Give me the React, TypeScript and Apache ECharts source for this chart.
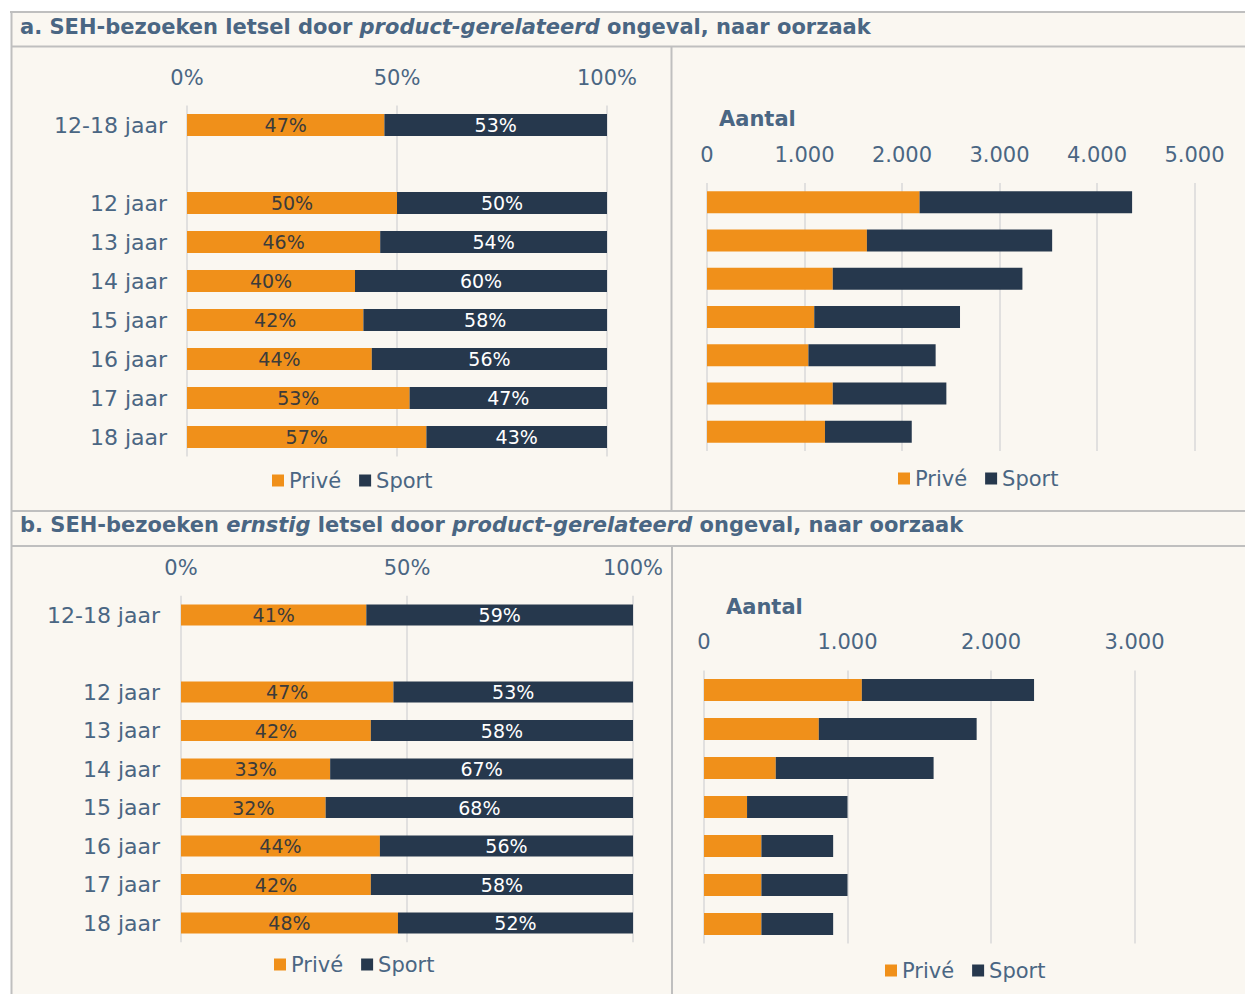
import React, { useEffect, useRef } from "react";
import * as echarts from "echarts";

// ---------- data ----------
const categoriesPct = ["12-18 jaar", "", "12 jaar", "13 jaar", "14 jaar", "15 jaar", "16 jaar", "17 jaar", "18 jaar"];
const pctPriveA = [47, null, 50, 46, 40, 42, 44, 53, 57];
const pctSportA = [53, null, 50, 54, 60, 58, 56, 47, 43];
const pctPriveB = [41, null, 47, 42, 33, 32, 44, 42, 48];
const pctSportB = [59, null, 53, 58, 67, 68, 56, 58, 52];

const ageCats = ["12 jaar", "13 jaar", "14 jaar", "15 jaar", "16 jaar", "17 jaar", "18 jaar"];
const countPriveA = [2180, 1640, 1290, 1100, 1040, 1290, 1210];
const countSportA = [2180, 1900, 1945, 1495, 1305, 1165, 890];
const countPriveB = [1100, 800, 500, 300, 400, 400, 400];
const countSportB = [1200, 1100, 1100, 700, 500, 600, 500];

const seriesNames = ["Privé", "Sport"];
const pctTicks = [0, 50, 100];

// ---------- style ----------
const ORANGE = "#f0901a";
const NAVY = "#26384d";
const TEXT = "#4a6683";
const BG = "#faf7f1";
const BORDER = "#bfbfbf";
const GRIDLINE = "#d9d9d9";
const FONT = "DejaVu Sans";

const fmtThousands = (v: number) => String(v).replace(/\B(?=(\d{3})+(?!\d))/g, ".");

export default function App() {
  const ref = useRef<HTMLDivElement>(null);

  useEffect(() => {
    if (!ref.current) return;
    const chart = echarts.init(ref.current, null, { renderer: "svg" });

    const pctXAxis = (gridIndex: number) => ({
      gridIndex,
      type: "value",
      position: "top",
      min: 0,
      max: 100,
      interval: 50,
      axisLine: { show: false },
      axisTick: { show: false },
      splitLine: { show: true, lineStyle: { color: GRIDLINE, width: 1.5 } },
      axisLabel: { color: TEXT, fontSize: 21, fontFamily: FONT, margin: 17, formatter: (v: number) => (pctTicks.includes(v) ? v + "%" : "") },
    });
    const cntXAxis = (gridIndex: number, max: number) => ({
      gridIndex,
      type: "value",
      position: "top",
      min: 0,
      max,
      interval: 1000,
      axisLine: { show: false },
      axisTick: { show: false },
      splitLine: { show: true, lineStyle: { color: GRIDLINE, width: 1.5 } },
      axisLabel: { color: TEXT, fontSize: 21, fontFamily: FONT, margin: 18, formatter: (v: number) => fmtThousands(v) },
    });
    const catYAxis = (gridIndex: number, data: string[], showLabel: boolean, margin: number) => ({
      gridIndex,
      type: "category",
      data,
      inverse: true,
      axisLine: { show: false },
      axisTick: { show: false },
      splitLine: { show: false },
      axisLabel: { show: showLabel, color: TEXT, fontSize: 22, fontFamily: FONT, margin, align: "right" },
    });

    const barSeries = (name: string, idx: number, data: any[], stack: string, color: string, barWidth: number, label: boolean, labelColor: string) => ({
      name,
      type: "bar",
      stack,
      xAxisIndex: idx,
      yAxisIndex: idx,
      data,
      barWidth,
      itemStyle: { color },
      label: label
        ? { show: true, position: "inside", color: labelColor, fontSize: 19, fontFamily: FONT, formatter: (p: any) => (p.value == null ? "" : p.value + "%") }
        : { show: false },
    });

    const legend = (left: number, top: number) => ({
      data: seriesNames,
      left,
      top,
      orient: "horizontal",
      icon: "rect",
      itemWidth: 12,
      itemHeight: 12,
      itemGap: 18,
      selectedMode: false,
      textStyle: { color: TEXT, fontSize: 21, fontFamily: FONT },
    });

    const hLine = (y: number, x1: number, x2: number) => ({
      type: "line",
      shape: { x1, y1: y, x2, y2: y },
      style: { stroke: BORDER, lineWidth: 2 },
      silent: true,
    });
    const vLine = (x: number, y1: number, y2: number) => ({
      type: "line",
      shape: { x1: x, y1, x2: x, y2 },
      style: { stroke: BORDER, lineWidth: 2 },
      silent: true,
    });

    const titleRich = {
      b: { fontFamily: FONT, fontWeight: "bold", fontSize: 21, fill: TEXT, color: TEXT },
      i: { fontFamily: FONT, fontWeight: "bold", fontStyle: "italic", fontSize: 21, fill: TEXT, color: TEXT },
    };

    chart.setOption({
      animation: false,
      backgroundColor: "#ffffff",
      graphic: [
        { type: "rect", shape: { x: 11, y: 12, width: 1234, height: 982 }, style: { fill: BG }, silent: true, z: -10 },
        hLine(12, 10, 1245),
        vLine(11.5, 12, 994),
        hLine(46.5, 11, 1245),
        vLine(671.5, 46, 511),
        hLine(511, 11, 1245),
        hLine(546, 11, 1245),
        vLine(672, 546, 994),
        {
          type: "text",
          x: 20,
          y: 27,
          style: {
            text: "{b|a. SEH-bezoeken letsel door }{i|product-gerelateerd}{b| ongeval, naar oorzaak}",
            rich: titleRich,
            verticalAlign: "middle",
          },
        },
        {
          type: "text",
          x: 20,
          y: 525,
          style: {
            text: "{b|b. SEH-bezoeken }{i|ernstig}{b| letsel door }{i|product-gerelateerd}{b| ongeval, naar oorzaak}",
            rich: titleRich,
            verticalAlign: "middle",
          },
        },
        {
          type: "text",
          x: 719,
          y: 119,
          style: { text: "Aantal", fontFamily: FONT, fontWeight: "bold", fontSize: 21, fill: TEXT, verticalAlign: "middle" },
        },
        {
          type: "text",
          x: 726,
          y: 607,
          style: { text: "Aantal", fontFamily: FONT, fontWeight: "bold", fontSize: 21, fill: TEXT, verticalAlign: "middle" },
        },
      ],
      grid: [
        { left: 187, top: 105.5, width: 420, height: 351 },
        { left: 707, top: 183, width: 487.5, height: 268 },
        { left: 181, top: 595.75, width: 452, height: 346.5 },
        { left: 704, top: 670.5, width: 430.5, height: 273 },
      ],
      xAxis: [pctXAxis(0), cntXAxis(1, 5000), pctXAxis(2), cntXAxis(3, 3000)],
      yAxis: [
        catYAxis(0, categoriesPct, true, 20),
        catYAxis(1, ageCats, false, 8),
        catYAxis(2, categoriesPct, true, 21),
        catYAxis(3, ageCats, false, 8),
      ],
      legend: [legend(267, 465), legend(893, 463), legend(269, 949), legend(880, 955)],
      series: [
        barSeries(seriesNames[0], 0, pctPriveA, "a1", ORANGE, 22, true, "#3b3b3b"),
        barSeries(seriesNames[1], 0, pctSportA, "a1", NAVY, 22, true, "#ffffff"),
        barSeries(seriesNames[0], 1, countPriveA, "a2", ORANGE, 22, false, ""),
        barSeries(seriesNames[1], 1, countSportA, "a2", NAVY, 22, false, ""),
        barSeries(seriesNames[0], 2, pctPriveB, "b1", ORANGE, 21, true, "#3b3b3b"),
        barSeries(seriesNames[1], 2, pctSportB, "b1", NAVY, 21, true, "#ffffff"),
        barSeries(seriesNames[0], 3, countPriveB, "b2", ORANGE, 22, false, ""),
        barSeries(seriesNames[1], 3, countSportB, "b2", NAVY, 22, false, ""),
      ],
    });

    return () => chart.dispose();
  }, []);

  return <div ref={ref} style={{ position: "absolute", left: 0, top: 0, width: 1245, height: 994 }} />;
}
